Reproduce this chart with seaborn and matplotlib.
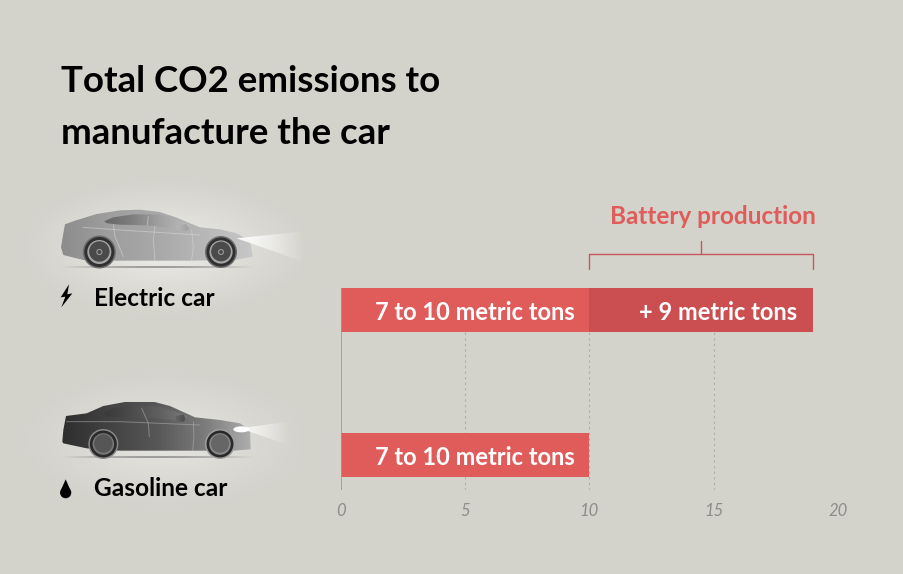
import numpy as np
import pandas as pd
import seaborn as sns
import matplotlib.pyplot as plt
from matplotlib.patches import Polygon, Circle, Ellipse
from matplotlib.transforms import blended_transform_factory

cars = ["Electric car", "Gasoline car"]
base_tons = [10, 10]
battery_tons = [9, 0]
bar_labels = ["7 to 10 metric tons", "7 to 10 metric tons"]
battery_label = "+ 9 metric tons"
ticks = [0, 5, 10, 15, 20]

bg = "#d3d2cb"
red = "#e05c5a"
dark_red = "#cb4f50"
W, H = 904, 574

sns.set_theme(style="white")
plt.rcParams["font.family"] = ["Lato", "DejaVu Sans"]

df = pd.DataFrame({"car": cars, "base": base_tons, "battery": battery_tons})
df["total"] = df["base"] + df["battery"]

fig = plt.figure(figsize=(W / 100, H / 100), dpi=100, facecolor=bg)

# pixel space layer for the car drawings
art = fig.add_axes([0, 0, 1, 1], zorder=0)
art.set_xlim(0, W)
art.set_ylim(H, 0)
art.axis("off")


def z(points, ox, oy):
    return [(ox + x / 3, oy + y / 3) for x, y in points]


def glow(cx, cy, rx, ry, strength):
    xx, yy = np.meshgrid(np.linspace(-1, 1, 200), np.linspace(-1, 1, 200))
    alpha = np.clip(1 - np.sqrt(xx**2 + yy**2), 0, 1) ** 1.2 * strength
    rgba = np.ones((200, 200, 4))
    rgba[..., 3] = alpha
    art.imshow(rgba, extent=[cx - rx, cx + rx, cy + ry, cy - ry], aspect="auto", zorder=1)


def shaded(points, stops, alpha=None, zorder=3):
    # polygon filled with a gray gradient, through an image clipped to it
    xs, ys = zip(*points)
    ramp = np.interp(np.linspace(0, 1, 256), np.linspace(0, 1, len(stops)), stops)
    img = np.ones((256, 256, 4))
    img[..., 0] = img[..., 1] = img[..., 2] = ramp[None, :]
    if alpha is not None:
        img[..., 3] = np.linspace(alpha[0], alpha[1], 256)[None, :]
    im = art.imshow(img, extent=[min(xs), max(xs), max(ys), min(ys)], aspect="auto", zorder=zorder)
    clip = Polygon(points, closed=True, transform=art.transData, fc="none", ec="none")
    art.add_patch(clip)
    im.set_clip_path(clip)


def wheel(x, y, r, arch, tyre, rim, disc, hub):
    art.add_patch(Circle((x, y), r + 1.5, fc=arch, ec="none", zorder=5))
    art.add_patch(Circle((x, y), r, fc=tyre, ec="none", zorder=6))
    art.add_patch(Circle((x, y), r * 0.8, fc=rim, ec="none", zorder=7))
    art.add_patch(Circle((x, y - 0.5), r * 0.68, fc=disc, ec="none", zorder=8))
    if hub:
        art.add_patch(Circle((x, y), r * 0.17, fc="none", ec=hub, lw=0.8, zorder=9))


def ground(x0, x1, y):
    img = np.full((1, 256, 4), 0.55)
    img[..., 3] = np.sin(np.linspace(0, np.pi, 256)) * 0.8
    art.imshow(img, extent=[x0, x1, y + 1, y - 0.5], aspect="auto", zorder=2)


def seams(lines, ox, oy, color, alpha):
    for line in lines:
        xs, ys = zip(*z(line, ox, oy))
        art.plot(xs, ys, color=color, alpha=alpha, lw=0.7, zorder=5)


glow(165, 248, 150, 72, 0.62)
glow(165, 440, 150, 72, 0.45)

# electric car
ox, oy = 20, 190
ground(ox + 120 / 3, ox + 700 / 3, oy + 232 / 3)
shaded(z([(650, 145), (850, 124), (850, 215)], ox, oy), [1.0, 1.0], alpha=(1.0, 0.0), zorder=10)
body = z([(123, 172), (130, 130), (135, 103), (165, 92), (230, 72), (300, 61), (360, 59), (420, 66),
          (470, 83), (540, 112), (600, 118), (650, 130), (690, 152), (698, 200), (650, 209),
          (520, 212), (290, 212), (190, 210), (130, 195)], ox, oy)
shaded(body, [0.55, 0.62, 0.66, 0.72, 0.78])
shaded(z([(252, 94), (280, 82), (340, 73), (420, 74), (470, 88), (512, 106), (480, 122), (440, 112),
          (380, 106), (300, 104), (262, 100)], ox, oy), [0.40, 0.50, 0.64, 0.74], zorder=4)
shaded(z([(468, 106), (498, 102), (508, 116), (500, 124), (474, 122)], ox, oy), [0.72, 0.62], zorder=5)
seams([[(280, 105), (285, 140), (310, 200)], [(405, 108), (400, 150), (405, 212)],
       [(515, 120), (520, 170), (515, 212)], [(385, 80), (382, 105)],
       [(190, 112), (300, 120), (540, 135)]], ox, oy, "#d8d8d8", 0.55)
wheel(ox + 238 / 3, oy + 186 / 3, 15, "#6d6d6d", "#303030", "#a5a5a5", "#4a4a4a", "#999999")
wheel(ox + 603 / 3, oy + 186 / 3, 14.5, "#6d6d6d", "#303030", "#a5a5a5", "#4a4a4a", "#999999")

# gasoline car
oy = 380
ground(ox + 120 / 3, ox + 700 / 3, oy + 232 / 3)
shaded(z([(660, 145), (810, 124), (810, 197)], ox, oy), [1.0, 1.0], alpha=(0.9, 0.0), zorder=10)
body = z([(127, 185), (130, 150), (138, 108), (200, 100), (250, 78), (320, 65), (400, 65), (450, 78),
          (525, 112), (600, 120), (660, 130), (690, 150), (692, 208), (640, 212), (300, 212),
          (200, 205), (130, 190)], ox, oy)
shaded(body, [0.18, 0.26, 0.34, 0.48, 0.68])
shaded(z([(252, 98), (280, 84), (340, 77), (420, 80), (470, 96), (505, 110), (470, 122), (400, 114),
          (320, 112), (260, 110)], ox, oy), [0.22, 0.30, 0.38, 0.48], zorder=4)
shaded(z([(466, 108), (492, 104), (496, 118), (490, 126), (468, 122)], ox, oy), [0.4, 0.3], zorder=5)
seams([[(365, 85), (385, 130), (388, 170)], [(520, 125), (522, 170), (518, 212)],
       [(140, 125), (300, 125), (540, 135)]], ox, oy, "#b8b8b8", 0.5)
wheel(ox + 250 / 3, oy + 192 / 3, 13.5, "#8a8a8a", "#2a2a2a", "#777777", "#565656", None)
wheel(ox + 600 / 3, oy + 192 / 3, 13.5, "#a0a0a0", "#2a2a2a", "#888888", "#666666", None)
art.add_patch(Ellipse((ox + 664 / 3, oy + 148 / 3), 16, 6, fc="white", ec="none", zorder=11))

# icons
art.add_patch(Polygon(z([(147, 283), (122, 322), (136, 320), (124, 352), (157, 310), (142, 313)], 20, 190),
                      fc="black", ec="none", zorder=5))
art.add_patch(Circle((20 + 137 / 3, 380 + 338 / 3), 5.6, fc="black", ec="none", zorder=5))
art.add_patch(Polygon(z([(137, 298), (122, 332), (152, 332)], 20, 380), fc="black", ec="none", zorder=5))

# titles and car names
art.text(61, 82, "Total CO2 emissions to", fontsize=26.4, fontweight="bold", color="black", va="center")
art.text(61, 133, "manufacture the car", fontsize=26.4, fontweight="bold", color="black", va="center")
art.text(94, 299, cars[0], fontsize=17.6, fontweight="bold", color="black", va="center")
art.text(94, 489, cars[1], fontsize=17.6, fontweight="bold", color="black", va="center")

# chart, plot area from x=341 to 839 and y=288 to 490
ax = fig.add_axes([340.6 / W, 1 - 490 / H, 497.5 / W, 202 / H], zorder=2)
ax.patch.set_alpha(0)
sns.barplot(data=df, x="total", y="car", color=dark_red, width=0.307, saturation=1, linewidth=0, ax=ax, zorder=3)
sns.barplot(data=df, x="base", y="car", color=red, width=0.307, saturation=1, linewidth=0, ax=ax, zorder=4)
ax.set_xlim(0, 20)
ax.set_ylim(1.241, -0.152)
ax.set_xlabel("")
ax.set_ylabel("")
ax.set_yticks([])
ax.set_xticks(ticks)
ax.tick_params(axis="x", length=0, pad=9)
for label in ax.get_xticklabels():
    label.set_fontsize(12)
    label.set_fontstyle("italic")
    label.set_color("#8e8d87")
sns.despine(ax=ax, left=True, bottom=True, top=True, right=True)
ax.axvline(0, color="#9b9a93", lw=1.2, zorder=5)
for t in ticks[1:]:
    ax.axvline(t, color="#aeada6", lw=0.8, ls=(0, (2, 3)), zorder=1)

for i, label in enumerate(bar_labels):
    ax.annotate(label, (9.4, i), xytext=(0, -1.5), textcoords="offset points", color="white", fontsize=17,
                fontweight="bold", ha="right", va="center", zorder=6)
ax.annotate(battery_label, (18.35, 0), xytext=(0, -1.5), textcoords="offset points", color="white", fontsize=17,
            fontweight="bold", ha="right", va="center", zorder=6)

# bracket over the battery part
tr = blended_transform_factory(ax.transData, art.transData)
start = base_tons[0]
end = base_tons[0] + battery_tons[0]
ax.plot([start, start, end, end], [269, 254, 254, 269], color="#c4585c", lw=1, transform=tr, clip_on=False)
ax.plot([(start + end) / 2] * 2, [254, 241], color="#c4585c", lw=1, transform=tr, clip_on=False)
ax.text(14.97, 217, "Battery production", color=red, fontsize=17.5, fontweight="bold", ha="center",
        va="center", transform=tr)

fig.savefig("out.png", dpi=100, facecolor=bg)
